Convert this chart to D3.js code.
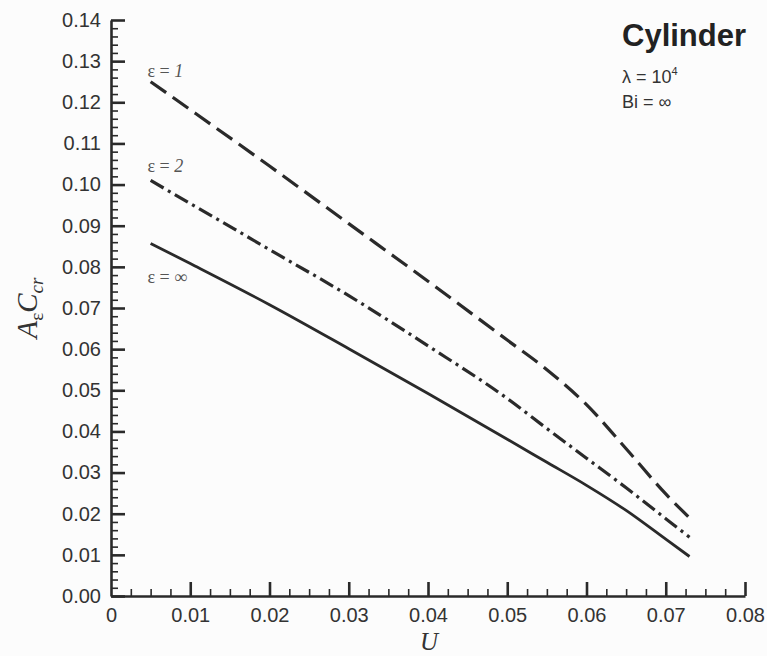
<!DOCTYPE html>
<html>
<head>
<meta charset="utf-8">
<script src="https://cdn.jsdelivr.net/npm/d3@7"></script>
<style>
  body { margin: 0; background: #fcfcfc; }
  svg { display: block; }
</style>
</head>
<body>
<div id="chart"></div>
<script>
// Data
const uValues = [0.005, 0.01, 0.02, 0.03, 0.04, 0.05, 0.055, 0.06, 0.065, 0.07, 0.073];
const eps1 = [0.125, 0.1182, 0.1045, 0.0905, 0.0765, 0.0622, 0.0550, 0.0465, 0.0358, 0.0248, 0.0190];
const eps2 = [0.101, 0.0954, 0.0842, 0.0730, 0.0608, 0.0480, 0.0407, 0.0335, 0.0263, 0.0188, 0.0143];
const epsInf = [0.0857, 0.0808, 0.0708, 0.0601, 0.0492, 0.0381, 0.0325, 0.0269, 0.0208, 0.0138, 0.0096];
const xTicks = [0, 0.01, 0.02, 0.03, 0.04, 0.05, 0.06, 0.07, 0.08];
const yTicks = [0, 0.01, 0.02, 0.03, 0.04, 0.05, 0.06, 0.07, 0.08, 0.09, 0.10, 0.11, 0.12, 0.13, 0.14];

const width = 767, height = 656;
const svg = d3.select("#chart").append("svg").attr("width", width).attr("height", height);

const x = d3.scaleLinear().domain([0, 0.08]).range([111, 745]);
const y = d3.scaleLinear().domain([0, 0.14]).range([596, 20]);

const ink = "#2a2a2a";

// minor ticks
const xMinor = d3.range(0, 0.08 + 1e-9, 0.0025).filter(v => Math.abs(v / 0.01 - Math.round(v / 0.01)) > 1e-6);
const yMinor = d3.range(0, 0.14 + 1e-9, 0.002).filter(v => Math.abs(v / 0.01 - Math.round(v / 0.01)) > 1e-6);

svg.append("g")
    .attr("transform", "translate(0,596)")
    .call(d3.axisBottom(x).tickValues(xMinor).tickSize(-7).tickSizeOuter(0).tickFormat(""))
    .call(g => g.select(".domain").remove())
    .call(g => g.selectAll("line").attr("stroke", ink).attr("stroke-width", 1.6));

svg.append("g")
    .attr("transform", "translate(111,0)")
    .call(d3.axisLeft(y).tickValues(yMinor).tickSize(-7).tickSizeOuter(0).tickFormat(""))
    .call(g => g.select(".domain").remove())
    .call(g => g.selectAll("line").attr("stroke", ink).attr("stroke-width", 1.6));

// major axes
const xAxis = svg.append("g")
    .attr("transform", "translate(0,596)")
    .call(d3.axisBottom(x).tickValues(xTicks).tickSize(-14).tickSizeOuter(0).tickPadding(9)
        .tickFormat(d => d === 0 ? "0" : d3.format(".2f")(d)));

const yAxis = svg.append("g")
    .attr("transform", "translate(111,0)")
    .call(d3.axisLeft(y).tickValues(yTicks).tickSize(-14).tickSizeOuter(0).tickPadding(10)
        .tickFormat(d3.format(".2f")));

[xAxis, yAxis].forEach(g => {
    g.select(".domain").attr("stroke", ink).attr("stroke-width", 2.6);
    g.selectAll(".tick line").attr("stroke", ink).attr("stroke-width", 2.6);
    g.selectAll(".tick text")
        .attr("fill", "#333")
        .attr("font-family", "Liberation Sans, Arial, sans-serif")
        .attr("font-size", "20px");
});
xAxis.selectAll(".tick").filter(d => d === 0).select("line").remove();
xAxis.selectAll(".tick text").attr("dy", "0.85em");

// curves
const line = d3.line()
    .x((d, i) => x(uValues[i]))
    .y(d => y(d))
    .curve(d3.curveMonotoneX);

const series = [
    { values: eps1, dash: "19 8", width: 3.2 },
    { values: eps2, dash: "15 5 3 5", width: 3.2 },
    { values: epsInf, dash: null, width: 2.8 }
];

series.forEach(s => {
    svg.append("path")
        .datum(s.values)
        .attr("fill", "none")
        .attr("stroke", ink)
        .attr("stroke-width", s.width)
        .attr("stroke-dasharray", s.dash)
        .attr("d", line);
});

// curve labels
const curveLabels = [
    { text: "ε = ", num: "1", italic: true, u: 0.0046, v: 0.1262 },
    { text: "ε = ", num: "2", italic: true, u: 0.0046, v: 0.1030 },
    { text: "ε = ", num: "∞", italic: false, u: 0.0046, v: 0.0760 }
];

curveLabels.forEach(l => {
    const t = svg.append("text")
        .attr("x", x(l.u))
        .attr("y", y(l.v))
        .attr("fill", "#555")
        .attr("font-family", "Liberation Serif, Times New Roman, serif")
        .attr("font-size", "18px");
    t.append("tspan").text(l.text);
    t.append("tspan").attr("font-style", l.italic ? "italic" : "normal").text(l.num);
});

// top-right annotation
svg.append("text")
    .attr("x", 622).attr("y", 46)
    .attr("fill", "#222")
    .attr("font-family", "Liberation Sans, Arial, sans-serif")
    .attr("font-weight", "bold")
    .attr("font-size", "31px")
    .text("Cylinder");

const lam = svg.append("text")
    .attr("x", 622).attr("y", 83)
    .attr("fill", "#333")
    .attr("font-family", "Liberation Sans, Arial, sans-serif")
    .attr("font-size", "18px");
lam.append("tspan").text("λ = 10");
lam.append("tspan").attr("font-size", "11px").attr("dy", "-8").text("4");

svg.append("text")
    .attr("x", 622).attr("y", 108)
    .attr("fill", "#333")
    .attr("font-family", "Liberation Sans, Arial, sans-serif")
    .attr("font-size", "18px")
    .text("Bi = ∞");

// axis titles
svg.append("text")
    .attr("x", 429).attr("y", 650)
    .attr("text-anchor", "middle")
    .attr("fill", "#333")
    .attr("font-family", "Liberation Serif, Times New Roman, serif")
    .attr("font-style", "italic")
    .attr("font-size", "25px")
    .text("U");

const yt = svg.append("text")
    .attr("transform", "translate(37,308) rotate(-90)")
    .attr("text-anchor", "middle")
    .attr("fill", "#333")
    .attr("font-family", "Liberation Serif, Times New Roman, serif")
    .attr("font-size", "29px");
yt.append("tspan").attr("font-style", "italic").text("A");
yt.append("tspan").attr("font-size", "19px").attr("dy", "6").text("ε");
yt.append("tspan").attr("font-style", "italic").attr("dy", "-6").text("C");
yt.append("tspan").attr("font-style", "italic").attr("font-size", "19px").attr("dy", "6").text("cr");
</script>
</body>
</html>
